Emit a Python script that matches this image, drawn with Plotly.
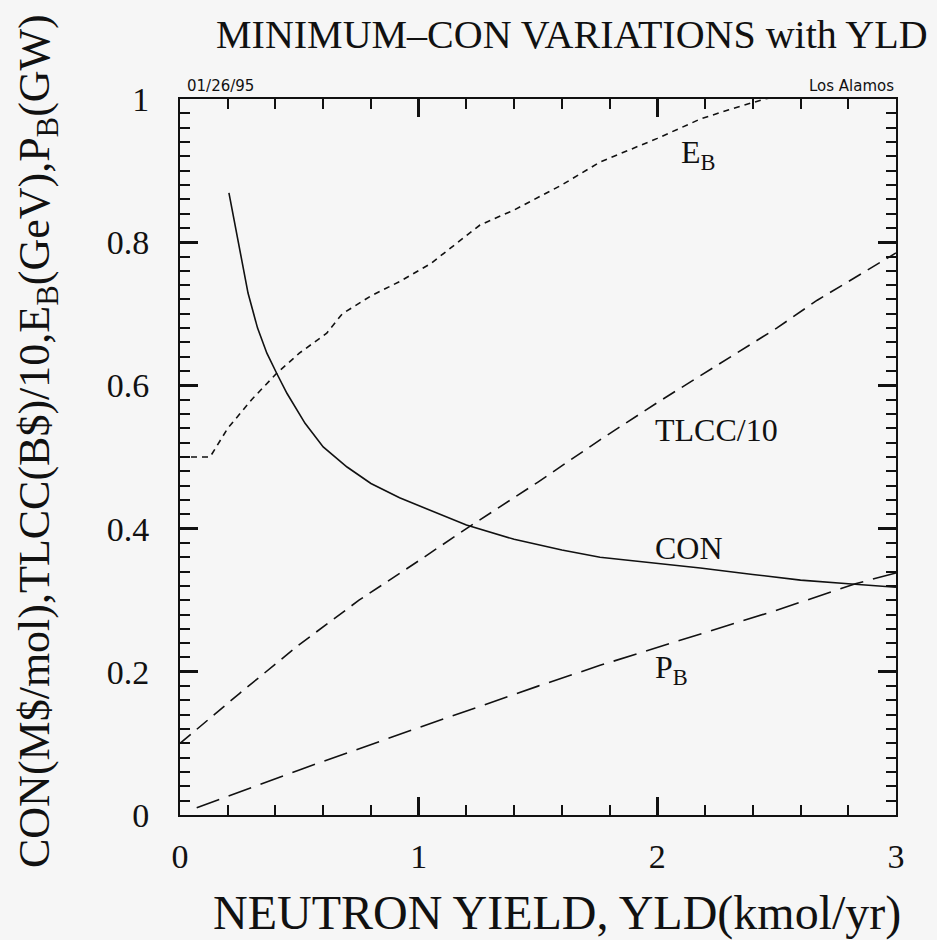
import plotly.graph_objects as go

# Neutron yield (kmol/yr) and the four minimum-CON quantities
con_yld = [0.205, 0.25, 0.285, 0.325, 0.364, 0.405, 0.448, 0.524, 0.6, 0.7, 0.8,
           0.92, 1.05, 1.2, 1.4, 1.6, 1.76, 2.0, 2.18, 2.4, 2.6, 2.8, 3.0]
con_val = [0.869, 0.79, 0.729, 0.68, 0.645, 0.617, 0.589, 0.547, 0.514, 0.486, 0.463,
           0.443, 0.425, 0.405, 0.385, 0.37, 0.360, 0.352, 0.345, 0.336, 0.328, 0.323, 0.318]

tlcc_yld = [0, 0.25, 0.5, 0.75, 1.0, 1.2, 1.5, 1.76, 2.0, 2.25, 2.5, 2.67, 3.0]
tlcc_val = [0.10, 0.17, 0.238, 0.30, 0.355, 0.40, 0.465, 0.524, 0.576, 0.628, 0.68, 0.719, 0.785]

eb_yld = [0, 0.126, 0.2, 0.3, 0.405, 0.5, 0.615, 0.68, 0.8, 0.92, 1.05, 1.257, 1.4,
          1.6, 1.76, 2.0, 2.18, 2.3, 2.45, 2.6]
eb_val = [0.5, 0.5, 0.54, 0.58, 0.617, 0.645, 0.673, 0.70, 0.725, 0.745, 0.77, 0.824, 0.845,
          0.88, 0.912, 0.945, 0.972, 0.985, 1.0, 1.01]

pb_yld = [0.07, 0.5, 1.0, 1.5, 1.76, 2.0, 2.5, 2.83, 3.0]
pb_val = [0.01, 0.063, 0.122, 0.18, 0.209, 0.234, 0.286, 0.323, 0.338]

x_major = [0, 1, 2, 3]
y_major = [0, 0.2, 0.4, 0.6, 0.8, 1]
y_major_text = ["0", "0.2", "0.4", "0.6", "0.8", "1"]
x_minor = [round(0.2 * i, 2) for i in range(16)]
y_minor = [round(0.02 * i, 2) for i in range(51)]

SERIF = "Liberation Serif"
BG = "#f6f6f6"
INK = "#111111"

fig = go.Figure()
fig.add_trace(go.Scatter(x=con_yld, y=con_val, mode="lines",
                         line=dict(color=INK, width=1.6, dash="solid")))
fig.add_trace(go.Scatter(x=tlcc_yld, y=tlcc_val, mode="lines",
                         line=dict(color=INK, width=1.6, dash="14px,8px")))
fig.add_trace(go.Scatter(x=eb_yld, y=eb_val, mode="lines",
                         line=dict(color=INK, width=1.6, dash="6px,5px")))
fig.add_trace(go.Scatter(x=pb_yld, y=pb_val, mode="lines",
                         line=dict(color=INK, width=1.6, dash="24px,10px")))


def frame_axis(rng, major, major_text, minor, **extra):
    # boxed axis with inward major and minor ticks on both sides
    return dict(
        range=rng, showgrid=False, zeroline=False, showline=True,
        linecolor=INK, linewidth=2, mirror="allticks",
        ticks="inside", tickcolor=INK, tickwidth=2.5, ticklen=18,
        tickmode="array", tickvals=major, ticktext=major_text,
        tickfont=dict(family=SERIF, size=34, color=INK),
        minor=dict(tickmode="array", tickvals=minor, ticks="inside", ticklen=10,
                   tickcolor=INK, tickwidth=2, showgrid=False),
        **extra,
    )


x_text = [str(v) for v in x_major]

W, H = 937, 940
L, R, T, B = 180, 41, 99, 125
PW, PH = W - L - R, H - T - B

fig.update_layout(
    width=W, height=H,
    margin=dict(l=L, r=R, t=T, b=B),
    paper_bgcolor=BG, plot_bgcolor=BG,
    showlegend=False,
    xaxis=frame_axis([0, 3], x_major, x_text, x_minor, ticklabelstandoff=10),
    yaxis=frame_axis([0, 1], y_major, y_major_text, y_minor, ticklabelstandoff=22),
)


def px(x, y):
    # page pixel position -> paper fraction
    return (x - L) / PW, (H - B - y) / PH


def add_text(text, x, y, size, family=SERIF, xanchor="center", yanchor="middle", angle=0):
    xp, yp = px(x, y)
    fig.add_annotation(text=text, x=xp, y=yp, xref="paper", yref="paper",
                       xanchor=xanchor, yanchor=yanchor, showarrow=False, textangle=angle,
                       font=dict(family=family, size=size, color=INK))


add_text("MINIMUM\u2013CON VARIATIONS with YLD", 572, 34, 40)
add_text("NEUTRON YIELD, YLD(kmol/yr)", 557, 913, 48)
add_text("CON(M$/mol),TLCC(B$)/10,E<sub>B</sub>(GeV),P<sub>B</sub>(GW)", 37, 441, 44, angle=-90)
add_text("01/26/95", 185, 86, 15, family="DejaVu Sans", xanchor="left")
add_text("Los Alamos", 896, 86, 15, family="DejaVu Sans", xanchor="right")

# Curve labels in data coordinates
for txt, xv, yv in [("E<sub>B</sub>", 2.09, 0.923), ("TLCC/10", 1.98, 0.538),
                    ("CON", 1.98, 0.373), ("P<sub>B</sub>", 1.98, 0.203)]:
    fig.add_annotation(text=txt, x=xv, y=yv, xref="x", yref="y", xanchor="left",
                       yanchor="middle", showarrow=False,
                       font=dict(family=SERIF, size=32, color=INK))

fig.write_html("out.html")
